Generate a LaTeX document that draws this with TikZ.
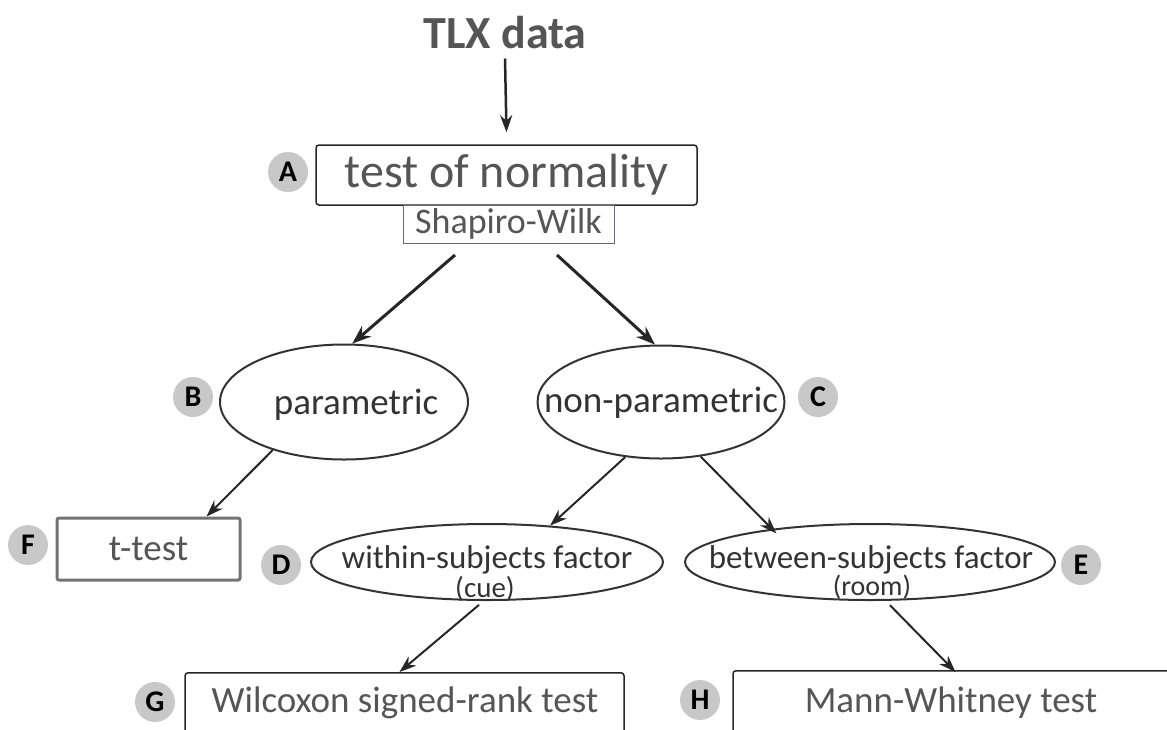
\documentclass[tikz,border=0pt]{standalone}
\usepackage{fontspec}
\setmainfont{Carlito}
\usetikzlibrary{shapes.geometric,arrows.meta}
\definecolor{txtgray}{HTML}{555555}
\definecolor{txtdark}{HTML}{333333}
\definecolor{lblfill}{HTML}{C8C8C8}
\tikzset{
  lbl/.style={circle, fill=lblfill, minimum size=40pt, inner sep=0pt,
    font=\fontsize{30}{34}\selectfont\bfseries, text=black},
  arr/.style={-{Stealth[length=17pt,width=12pt]}, line width=2pt, draw=black!85},
  thickarr/.style={-{Stealth[length=19pt,width=14pt]}, line width=3pt, draw=black!85},
  bigtext/.style={font=\fontsize{37}{44}\selectfont},
  boxnode/.style={draw=black!85, line width=1.5pt, rounded corners=3pt, inner sep=0pt, text=txtgray, bigtext},
  ell/.style={ellipse, draw=txtdark, line width=2pt, inner sep=0pt, text=txtdark},
  elltext/.style={text=txtdark, inner sep=0pt},
}
\begin{document}
\begin{tikzpicture}[x=1pt,y=-1pt]
\useasboundingbox (0,0) rectangle (1167,729);
\clip (0,0) rectangle (1167,729);
% title
\node[font=\fontsize{46}{54}\selectfont\bfseries, text=txtgray, inner sep=0pt] (tlx) at (505,33) {TLX data};
% A
\node[boxnode, minimum width=381pt, minimum height=60pt, font=\fontsize{48}{56}\selectfont] (A) at (506.5,175) {test of normality};
\node[draw=black!75!blue!60, line width=1pt, inner sep=0pt, minimum width=211pt, minimum height=38pt, text=txtgray, font=\fontsize{36}{42}\selectfont] (SW) at (508.5,224) {Shapiro-Wilk};
\node[lbl] (la) at (288,172) {A};
% B, C
\node[ell, minimum width=248pt, minimum height=115pt] (B) at (344,402) {};
\node[elltext, bigtext] (Bt) at (356,405) {parametric};
\node[ell, minimum width=247pt, minimum height=113pt] (C) at (661,402) {};
\node[elltext, bigtext] (Ct) at (661,403) {non-parametric};
\node[lbl] (lb) at (193,397) {B};
\node[lbl] (lc) at (818,397) {C};
% F
\node[draw=black!55, line width=3pt, rounded corners=2pt, inner sep=0pt, minimum width=183pt, minimum height=62pt, text=txtgray, bigtext] (F) at (148.5,549) {t-test};
\node[lbl] (lf) at (28,545) {F};
% D, E
\node[ell, minimum width=352pt, minimum height=76pt] (D) at (487,562) {};
\node[elltext, font=\fontsize{33}{40}\selectfont] (Dt) at (487,560) {within-subjects factor};
\node[elltext, font=\fontsize{29}{32}\selectfont] (Dc) at (485,589) {(cue)};
\node[lbl] (ld) at (281,565) {D};
\node[ell, minimum width=370pt, minimum height=76pt] (E) at (870,562) {};
\node[elltext, font=\fontsize{33}{40}\selectfont] (Et) at (871,560) {between-subjects factor};
\node[elltext, font=\fontsize{28}{30}\selectfont] (Ec) at (872,587) {(room)};
\node[lbl] (le) at (1081,565) {E};
% G, H
\node[boxnode, minimum width=439pt, minimum height=80pt, anchor=north] (G) at (404.5,672) {};
\node[text=txtgray, bigtext, inner sep=0pt] (Gt) at (405,703) {Wilcoxon signed-rank test};
\node[lbl] (lg) at (155,702) {G};
\node[boxnode, minimum width=445pt, minimum height=80pt, anchor=north] (H) at (955.5,670) {};
\node[text=txtgray, bigtext, inner sep=0pt] (Ht) at (951,703) {Mann-Whitney test};
\node[lbl] (lh) at (700,700) {H};
% connectors
\draw[arr, line width=2.5pt] ([yshift=-9pt]tlx.south) -- ([yshift=12pt]A.north);
\coordinate (s1) at (455,255);
\coordinate (s2) at (557,255);
\draw[thickarr] (s1) -- (B.82);
\draw[thickarr] (s2) -- (C.96);
\draw[arr] (B.214) -- ([xshift=-35pt]F.north east);
\draw[arr] (C.237) -- (D.30);
\draw[arr] (C.306) -- ([xshift=-8pt,yshift=-6pt]E.158);
\draw[arr, shorten <=6pt] (D.265) -- ([xshift=-5pt]G.north);
\draw[arr, shorten <=6pt] (E.292) -- ([yshift=-2pt]H.north);
\end{tikzpicture}
\end{document}
